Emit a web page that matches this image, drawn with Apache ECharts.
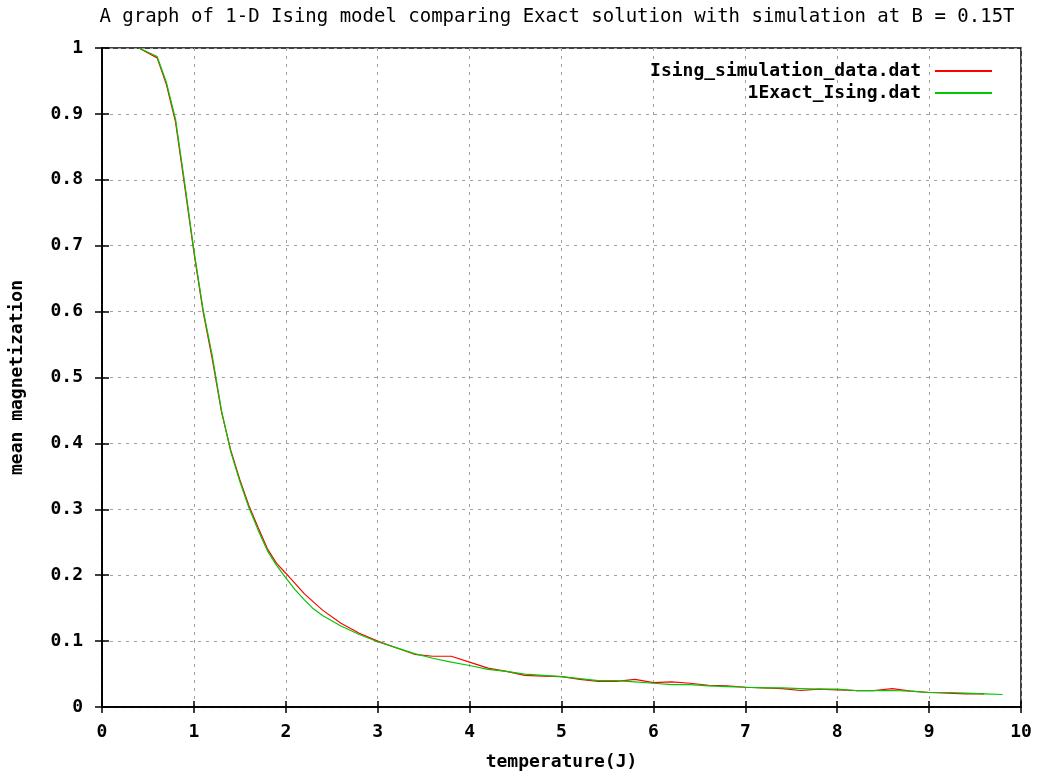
<!DOCTYPE html>
<html>
<head>
<meta charset="utf-8">
<title>1-D Ising model</title>
<script src="https://cdn.jsdelivr.net/npm/echarts@6/dist/echarts.min.js"></script>
<style>
  html, body { margin: 0; padding: 0; background: #fff; }
  #main { width: 1039px; height: 776px; }
</style>
</head>
<body>
<div id="main"></div>
<script>
// temperature values (J) and mean magnetization
var simT = [0.4, 0.6, 0.7, 0.8, 0.9, 1.0, 1.1, 1.2, 1.3, 1.4, 1.5, 1.6, 1.7, 1.8, 1.9, 2.0,
  2.2, 2.4, 2.6, 2.8, 3.0, 3.2, 3.4, 3.6, 3.8, 4.0, 4.2, 4.4, 4.6, 4.8, 5.0, 5.2, 5.4, 5.6,
  5.8, 6.0, 6.2, 6.4, 6.6, 6.8, 7.0, 7.2, 7.4, 7.6, 7.8, 8.0, 8.2, 8.4, 8.6, 8.8, 9.0, 9.2,
  9.4, 9.6]
var simM = [1.000, 0.985, 0.945, 0.888, 0.790, 0.690, 0.600, 0.528, 0.448, 0.390, 0.345, 0.305,
  0.272, 0.240, 0.218, 0.203, 0.172, 0.147, 0.127, 0.112, 0.100, 0.090, 0.080, 0.077, 0.077,
  0.068, 0.059, 0.054, 0.048, 0.047, 0.046, 0.042, 0.039, 0.039, 0.042, 0.037, 0.038, 0.036,
  0.033, 0.032, 0.030, 0.029, 0.028, 0.025, 0.027, 0.026, 0.025, 0.025, 0.028, 0.024, 0.022,
  0.021, 0.020, 0.020]

var exactT = [0.4, 0.6, 0.7, 0.8, 0.9, 1.0, 1.1, 1.2, 1.3, 1.4, 1.5, 1.6, 1.7, 1.8, 1.9, 2.0,
  2.1, 2.2, 2.3, 2.4, 2.6, 2.8, 3.0, 3.2, 3.4, 3.6, 3.8, 4.0, 4.2, 4.4, 4.6, 4.8, 5.0, 5.2,
  5.4, 5.6, 5.8, 6.0, 6.2, 6.4, 6.6, 6.8, 7.0, 7.2, 7.4, 7.6, 7.8, 8.0, 8.2, 8.4, 8.6, 8.8,
  9.0, 9.2, 9.4, 9.6, 9.8]
var exactM = [1.000, 0.987, 0.948, 0.892, 0.795, 0.693, 0.603, 0.533, 0.450, 0.388, 0.342,
  0.302, 0.268, 0.237, 0.215, 0.196, 0.178, 0.163, 0.149, 0.139, 0.123, 0.110, 0.099, 0.090,
  0.081, 0.074, 0.068, 0.063, 0.057, 0.054, 0.050, 0.048, 0.046, 0.043, 0.040, 0.040, 0.038,
  0.036, 0.034, 0.034, 0.032, 0.031, 0.030, 0.029, 0.029, 0.028, 0.027, 0.027, 0.025, 0.025,
  0.025, 0.024, 0.022, 0.022, 0.021, 0.020, 0.019]

var seriesNames = ['Ising_simulation_data.dat', '1Exact_Ising.dat']

function pairs(xs, ys) {
  return xs.map(function (x, i) { return [x, ys[i]] })
}

var monoFont = '"DejaVu Sans Mono", "Liberation Mono", monospace'

var myChart = echarts.init(document.getElementById('main'))

var option = {
  animation: false,
  backgroundColor: '#fff',
  title: {
    text: 'A graph of 1-D Ising model comparing Exact solution with simulation at B = 0.15T',
    left: 552,
    textAlign: 'center',
    top: 3,
    textStyle: {
      fontFamily: monoFont,
      fontSize: 19,
      fontWeight: 'normal',
      color: '#000'
    }
  },
  legend: {
    orient: 'vertical',
    right: 42,
    top: 56,
    align: 'right',
    icon: 'rect',
    itemWidth: 57,
    itemHeight: 2,
    itemGap: 2,
    textStyle: {
      fontFamily: monoFont,
      fontSize: 18,
      fontWeight: 'bold',
      color: '#000',
      lineHeight: 20,
      padding: [0, 9, 0, 0]
    },
    data: seriesNames
  },
  grid: {
    left: 101,
    right: 18,
    top: 48,
    bottom: 66,
    show: true,
    borderColor: '#000',
    borderWidth: 1.5
  },
  xAxis: [
    {
      type: 'value',
      min: 0,
      max: 10,
      interval: 1,
      name: 'temperature(J)',
      nameLocation: 'middle',
      nameGap: 46,
      nameTextStyle: { fontFamily: monoFont, fontSize: 18, fontWeight: 'bold', color: '#000' },
      axisLine: { show: true, lineStyle: { color: '#000', width: 1.5 } },
      axisTick: { inside: true, length: 6, lineStyle: { color: '#000', width: 1.5 } },
      axisLabel: { margin: 16, fontFamily: monoFont, fontSize: 18, fontWeight: 'bold', color: '#000' },
      splitLine: { show: true, lineStyle: { color: '#a0a0a0', width: 1, type: [3, 5] } }
    },
    {
      type: 'value',
      position: 'top',
      min: 0,
      max: 10,
      interval: 1,
      axisLine: { show: true, lineStyle: { color: '#000', width: 1.5 } },
      axisTick: { inside: true, length: 6, lineStyle: { color: '#000', width: 1.5 } },
      axisLabel: { show: false },
      splitLine: { show: false }
    }
  ],
  yAxis: [
    {
      type: 'value',
      min: 0,
      max: 1,
      interval: 0.1,
      name: 'mean magnetization',
      nameLocation: 'middle',
      nameGap: 76,
      nameTextStyle: { fontFamily: monoFont, fontSize: 18, fontWeight: 'bold', color: '#000' },
      axisLine: { show: true, lineStyle: { color: '#000', width: 1.5 } },
      axisTick: { inside: true, length: 7, lineStyle: { color: '#000', width: 1.5 } },
      axisLabel: {
        margin: 19,
        fontFamily: monoFont,
        fontSize: 18,
        fontWeight: 'bold',
        color: '#000',
        formatter: function (v) { return String(Math.round(v * 10) / 10) }
      },
      splitLine: { show: true, lineStyle: { color: '#a0a0a0', width: 1, type: [3, 5] } }
    },
    {
      type: 'value',
      position: 'right',
      min: 0,
      max: 1,
      interval: 0.1,
      axisLine: { show: true, lineStyle: { color: '#000', width: 1.5 } },
      axisTick: { inside: true, length: 7, lineStyle: { color: '#000', width: 1.5 } },
      axisLabel: { show: false },
      splitLine: { show: false }
    }
  ],
  series: [
    {
      name: seriesNames[0],
      type: 'line',
      symbol: 'none',
      itemStyle: { color: '#ff0000' },
      lineStyle: { color: '#ff0000', width: 1.2 },
      data: pairs(simT, simM),
      z: 2
    },
    {
      name: seriesNames[1],
      type: 'line',
      symbol: 'none',
      itemStyle: { color: '#00c800' },
      lineStyle: { color: '#00c800', width: 1.2 },
      data: pairs(exactT, exactM),
      z: 3
    }
  ]
}

myChart.setOption(option)
</script>
</body>
</html>
